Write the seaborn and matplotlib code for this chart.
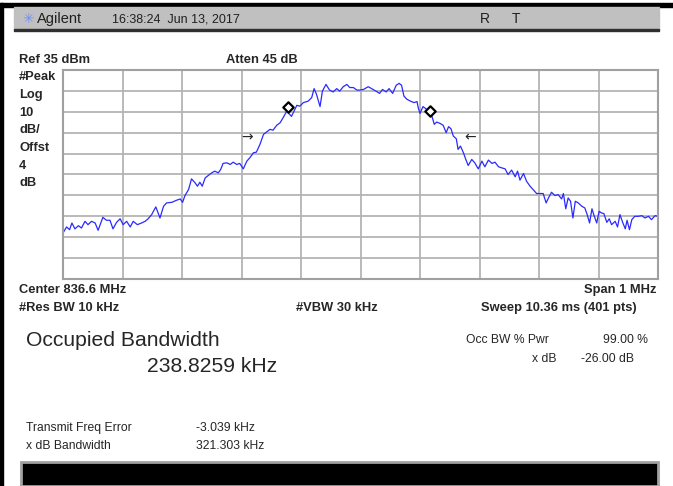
import matplotlib.pyplot as plt
import matplotlib.patches as patches
import seaborn as sns
import numpy as np
import pandas as pd

# trace: offset from center (kHz) and level (dBm)
freq_khz = [-500, -494, -489, -485, -480, -474, -469, -463, -458, -452,
            -446, -441, -433, -427, -421, -416, -410, -404, -399, -393,
            -387, -382, -375, -368, -362, -357, -351, -344, -337, -331,
            -326, -317, -309, -303, -299, -295, -289, -284, -278, -274,
            -270, -266, -261, -256, -250, -245, -239, -235, -231, -225,
            -219, -214, -208, -203, -197, -191, -186, -180, -175, -169,
            -163, -158, -152, -147, -141, -135, -130, -124, -116, -107,
            -102, -96, -88, -82, -78, -74, -68, -64, -58, -52,
            -46, -40, -35, -29, -23, -18, -12, -6, -1, 5,
            13, 21, 26, 32, 37, 43, 48, 54, 60, 65,
            69, 73, 78, 84, 90, 95, 97, 100, 105, 111,
            120, 124, 128, 134, 139, 144, 148, 152, 156, 161,
            164, 168, 173, 177, 181, 187, 192, 198, 204, 209,
            215, 221, 226, 232, 237, 243, 248, 254, 260, 264,
            268, 274, 279, 285, 290, 296, 302, 307, 312, 316,
            321, 327, 332, 338, 341, 345, 349, 353, 357, 361,
            366, 372, 377, 381, 385, 389, 392, 397, 401, 405,
            409, 414, 418, 422, 428, 432, 436, 441, 445, 448,
            452, 456, 461, 467, 473, 478, 484, 489, 495, 500]
level_dbm = [-43.0, -40.1, -41.4, -38.2, -41.0, -39.5, -40.6, -37.4, -39.0, -37.4,
             -38.2, -41.7, -35.5, -36.9, -36.9, -41.0, -37.9, -36.2, -39.0, -37.4,
             -40.1, -37.4, -39.0, -38.2, -37.4, -36.2, -34.2, -30.5, -35.8, -30.2,
             -28.6, -28.3, -27.3, -26.7, -28.3, -25.1, -22.2, -17.1, -19.0, -20.6,
             -18.7, -20.6, -16.6, -15.5, -14.2, -13.4, -14.2, -12.6, -9.7, -9.4,
             -10.2, -9.1, -10.2, -9.7, -12.3, -8.6, -7.0, -4.6, -4.3, -0.6,
             4.2, 5.3, 6.6, 6.2, 8.5, 9.8, 12.2, 15.3, 12.8, 18.1,
             17.7, 19.4, 20.1, 21.8, 26.1, 23.4, 17.5, 24.9, 28.1, 25.4,
             24.5, 26.1, 24.9, 27.0, 28.1, 26.6, 26.6, 25.4, 25.4, 25.7,
             27.0, 25.7, 24.9, 23.8, 25.7, 24.5, 26.1, 23.8, 27.7, 28.6,
             27.7, 22.5, 21.0, 20.1, 19.4, 19.9, 17.0, 14.2, 17.5, 16.2,
             12.9, 9.0, 10.1, 9.4, 8.5, 5.0, 7.9, 6.9, 3.4, 2.1,
             -3.0, -1.4, -4.6, -7.8, -10.7, -7.8, -9.4, -12.3, -8.6, -11.3,
             -8.1, -9.7, -9.1, -11.3, -11.8, -12.3, -15.0, -12.9, -16.1, -13.4,
             -17.7, -14.5, -18.2, -20.6, -22.2, -24.1, -24.1, -24.1, -28.6, -26.2,
             -23.5, -25.1, -24.6, -26.7, -24.1, -31.4, -26.2, -27.8, -35.8, -27.8,
             -28.6, -30.2, -31.0, -34.2, -38.2, -31.4, -34.2, -38.2, -32.6, -33.4,
             -33.7, -37.9, -36.2, -39.0, -37.4, -40.1, -34.2, -38.2, -41.0, -36.9,
             -41.4, -36.6, -35.0, -35.0, -34.7, -35.8, -35.0, -36.6, -34.7, -35.0]

# occupied bandwidth markers (diamonds) and x dB arrows
freq_error_khz = -3.039
occ_bw_khz = 238.8259
marker_levels = [17.1, 15.2]
arrow_freqs = [-191, 184]
arrow_level = 2.6

ref_level = 35
db_per_div = 10
span_khz = 1000

df = pd.DataFrame({"freq": freq_khz, "level": level_dbm})
mk = pd.DataFrame({"freq": [freq_error_khz - occ_bw_khz / 2, freq_error_khz + occ_bw_khz / 2],
                   "level": marker_levels})

sns.set_style("white")
plt.rcParams['font.family'] = ['Liberation Sans', 'DejaVu Sans']

W, H = 673, 486
fig = plt.figure(figsize=(W / 100, H / 100), dpi=100)


def px(x, y):
    return x / W, 1 - y / H


# screen frame
fig.patches.append(patches.Rectangle((0, 0), 3 / W, 1 - 3 / H, transform=fig.transFigure, color='black'))
fig.patches.append(patches.Rectangle(px(0, 7), 1, 4 / H, transform=fig.transFigure, color='black'))
fig.patches.append(patches.Rectangle(px(14, 30), 645 / W, 23 / H, transform=fig.transFigure,
                                     color='#c0c0c0'))
fig.patches.append(patches.Rectangle(px(14, 31), 645 / W, 1.5 / H, transform=fig.transFigure,
                                     color='#303030'))
fig.patches.append(patches.Rectangle(px(21, 486), 637 / W, 24 / H, transform=fig.transFigure,
                                     facecolor='black', edgecolor='#a0a0a0', linewidth=2))

# header
fig.text(*px(22, 19), "\u2733", fontsize=10, color='#7090ff', va='center', family='DejaVu Sans')
fig.text(*px(37, 19), "Agilent", fontsize=10.5, va='center', color='#202020')
fig.text(*px(112, 19), "16:38:24  Jun 13, 2017", fontsize=9, va='center', color='#202020')
fig.text(*px(480, 19), "R", fontsize=10, va='center', color='#202020')
fig.text(*px(512, 19), "T", fontsize=10, va='center', color='#202020')

bold = dict(fontsize=9.3, fontweight='bold', va='center')
fig.text(*px(19, 60), "Ref 35 dBm", **bold)
fig.text(*px(226, 60), "Atten 45 dB", **bold)
for lbl, yy in zip(["#Peak", "Log", "10", "dB/", "Offst", "4", "dB"],
                   [77, 95, 113, 130, 148, 166, 183]):
    fig.text(*px(19, yy), lbl, **bold)

fig.text(*px(19, 290), "Center 836.6 MHz", **bold)
fig.text(*px(656, 290), "Span 1 MHz", ha='right', **bold)
fig.text(*px(19, 308), "#Res BW 10 kHz", **bold)
fig.text(*px(296, 308), "#VBW 30 kHz", **bold)
fig.text(*px(637, 308), "Sweep 10.36 ms (401 pts)", ha='right', **bold)

fig.text(*px(26, 340), "Occupied Bandwidth", fontsize=15.2, va='center')
fig.text(*px(147, 366), f"{occ_bw_khz:.4f} kHz", fontsize=15.2, va='center')

small = dict(fontsize=8.7, va='center')
fig.text(*px(466, 340), "Occ BW % Pwr", **small)
fig.text(*px(648, 340), "99.00 %", ha='right', **small)
fig.text(*px(557, 359), "x dB", ha='right', **small)
fig.text(*px(581, 359), "-26.00 dB", **small)
fig.text(*px(26, 428), "Transmit Freq Error", **small)
fig.text(*px(196, 428), f"{freq_error_khz:.3f} kHz", **small)
fig.text(*px(26, 446), "x dB Bandwidth", **small)
fig.text(*px(196, 446), "321.303 kHz", **small)

# graticule
ax = fig.add_axes([63 / W, 1 - 279 / H, 595 / W, 209 / H])
sns.lineplot(data=df, x="freq", y="level", ax=ax, color='#2a2aff', linewidth=0.9)
sns.scatterplot(data=mk, x="freq", y="level", ax=ax, marker='D', s=28,
                facecolor='white', edgecolor='black', linewidth=1.6, zorder=5)
ax.text(arrow_freqs[0], arrow_level, "\u2192", ha='center', va='center', fontsize=10,
        family='DejaVu Sans')
ax.text(arrow_freqs[1], arrow_level, "\u2190", ha='center', va='center', fontsize=10,
        family='DejaVu Sans')

ax.set_xlim(-span_khz / 2, span_khz / 2)
ax.set_ylim(ref_level - 10 * db_per_div, ref_level)
ax.set_xticks(np.linspace(-span_khz / 2, span_khz / 2, 11))
ax.set_yticks(np.linspace(ref_level - 10 * db_per_div, ref_level, 11))
ax.set_xticklabels([])
ax.set_yticklabels([])
ax.tick_params(length=0)
ax.set_xlabel("")
ax.set_ylabel("")
ax.grid(True, color='#b4b4b4', linewidth=1.3)
for s in ax.spines.values():
    s.set_color('#a0a0a0')
    s.set_linewidth(1.5)

fig.savefig("out.png", dpi=100)
